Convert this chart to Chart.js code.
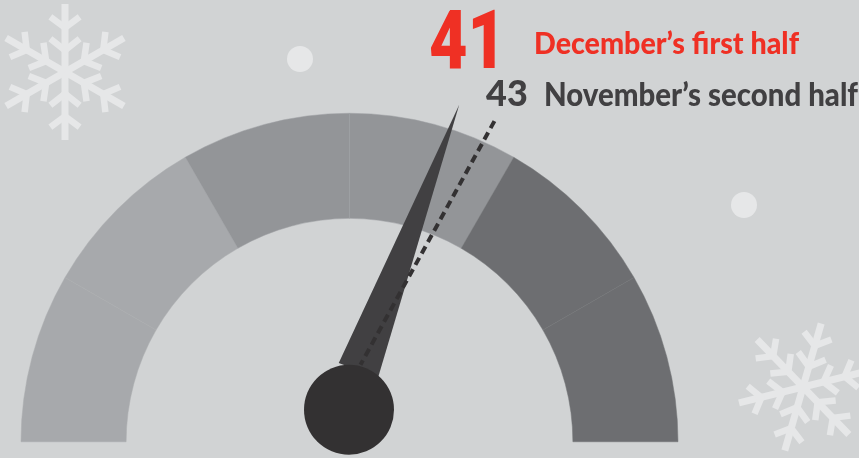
<!DOCTYPE html>
<html lang="en">
<head>
    <meta charset="UTF-8">
    <title>Gauge: December's first half</title>
    <script src="https://cdn.jsdelivr.net/npm/chart.js"></script>
    <style>
        html, body {
            margin: 0;
            padding: 0;
            background-color: #d1d3d4;
            overflow: hidden;
        }
        canvas {
            display: block;
        }
    </style>
</head>
<body>
    <canvas id="gauge" width="859" height="458"></canvas>

    <script>
        // six equal slices on the dial
        const zones = ['z1', 'z2', 'z3', 'z4', 'z5', 'z6'];
        const zoneSizes = [1, 1, 1, 1, 1, 1];
        const zoneColors = ['#a7a9ac', '#a7a9ac', '#939598', '#939598', '#6d6e71', '#6d6e71'];
        const seamColors = ['#aaacaf', '#aaacaf', '#9d9fa2', '#9d9fa2', '#737477', '#737477'];

        const readings = [41, 43];
        const readingLabels = ["December\u2019s first half", "November\u2019s second half"];

        // dial range that puts the readings where the picture has them
        const dialMin = 13.3;
        const dialMax = 58.3;

        function dialAngle(value) {
            // radians clockwise from straight up
            return ((value - dialMin) / (dialMax - dialMin) - 0.5) * Math.PI;
        }

        function flake(ctx, x, y, radius, turn) {
            ctx.save();
            ctx.translate(x, y);
            ctx.rotate(turn);
            ctx.strokeStyle = '#e6e7e8';
            ctx.lineWidth = 7;
            for (let i = 0; i < 6; i++) {
                ctx.beginPath();
                ctx.moveTo(0, 0);
                ctx.lineTo(0, -radius);
                ctx.stroke();
                ctx.lineWidth = 6.5;
                [[0.65, 0.81], [0.32, 0.49]].forEach(function (b) {
                    ctx.beginPath();
                    ctx.moveTo(-radius * 0.215, -radius * b[1]);
                    ctx.lineTo(0, -radius * b[0]);
                    ctx.lineTo(radius * 0.215, -radius * b[1]);
                    ctx.stroke();
                });
                ctx.lineWidth = 7;
                ctx.rotate(Math.PI / 3);
            }
            ctx.restore();
        }

        function dot(ctx, x, y) {
            ctx.fillStyle = '#e6e7e8';
            ctx.beginPath();
            ctx.arc(x, y, 13, 0, Math.PI * 2);
            ctx.fill();
        }

        function label(ctx, text, x, y, font, color, width) {
            ctx.fillStyle = color;
            ctx.font = font;
            ctx.textAlign = 'left';
            ctx.textBaseline = 'alphabetic';
            ctx.fillText(text, x, y, width);
        }

        const backdrop = {
            id: 'backdrop',
            beforeDatasetsDraw: function (chart) {
                const ctx = chart.ctx;
                flake(ctx, 65, 72, 68, 0);
                flake(ctx, 803, 387, 66, 16 * Math.PI / 180);
                dot(ctx, 300, 59);
                dot(ctx, 744, 205);
            }
        };

        const needle = {
            id: 'needle',
            afterDatasetsDraw: function (chart) {
                const ctx = chart.ctx;
                const arc = chart.getDatasetMeta(0).data[0];
                const pivotX = arc.x + 11;
                const pivotY = arc.y - 77;
                const length = 278;

                // solid needle for the current reading
                let a = dialAngle(readings[0]);
                let sin = Math.sin(a), cos = Math.cos(a);
                ctx.fillStyle = '#414042';
                ctx.beginPath();
                ctx.moveTo(pivotX + length * sin, pivotY - length * cos);
                ctx.lineTo(pivotX - 6 * sin + 21 * cos, pivotY + 6 * cos + 21 * sin);
                ctx.lineTo(pivotX - 6 * sin - 21 * cos, pivotY + 6 * cos - 21 * sin);
                ctx.closePath();
                ctx.fill();

                // dashed needle for the previous reading
                a = dialAngle(readings[1]);
                ctx.save();
                ctx.strokeStyle = '#333132';
                ctx.lineWidth = 4;
                ctx.setLineDash([8, 5]);
                ctx.beginPath();
                ctx.moveTo(pivotX + length * Math.sin(a), pivotY - length * Math.cos(a));
                ctx.lineTo(pivotX, pivotY);
                ctx.stroke();
                ctx.restore();

                // hub
                ctx.fillStyle = '#333132';
                ctx.beginPath();
                ctx.arc(arc.x - 0.5, arc.y - 32, 45, 0, Math.PI * 2);
                ctx.fill();

                label(ctx, String(readings[0]), 429, 68, '900 81px Roboto, sans-serif', '#ef3024', 77);
                label(ctx, readingLabels[0], 534, 54, '900 30px Lato, sans-serif', '#ef3024', 265);
                label(ctx, String(readings[1]), 486, 106, '900 36px Lato, sans-serif', '#414042', 42);
                label(ctx, readingLabels[1], 544, 106, '900 33px Lato, sans-serif', '#414042', 314);
            }
        };

        new Chart(document.getElementById('gauge').getContext('2d'), {
            type: 'doughnut',
            data: {
                labels: zones,
                datasets: [{
                    data: zoneSizes,
                    backgroundColor: zoneColors,
                    borderColor: seamColors,
                    borderWidth: 0.5
                }]
            },
            options: {
                responsive: false,
                animation: false,
                rotation: -90,
                circumference: 180,
                cutout: '68%',
                layout: { padding: { left: 20.5, right: 180.5, top: 113, bottom: 16 } },
                plugins: {
                    legend: { display: false },
                    tooltip: { enabled: false }
                }
            },
            plugins: [backdrop, needle]
        });
    </script>
</body>
</html>
